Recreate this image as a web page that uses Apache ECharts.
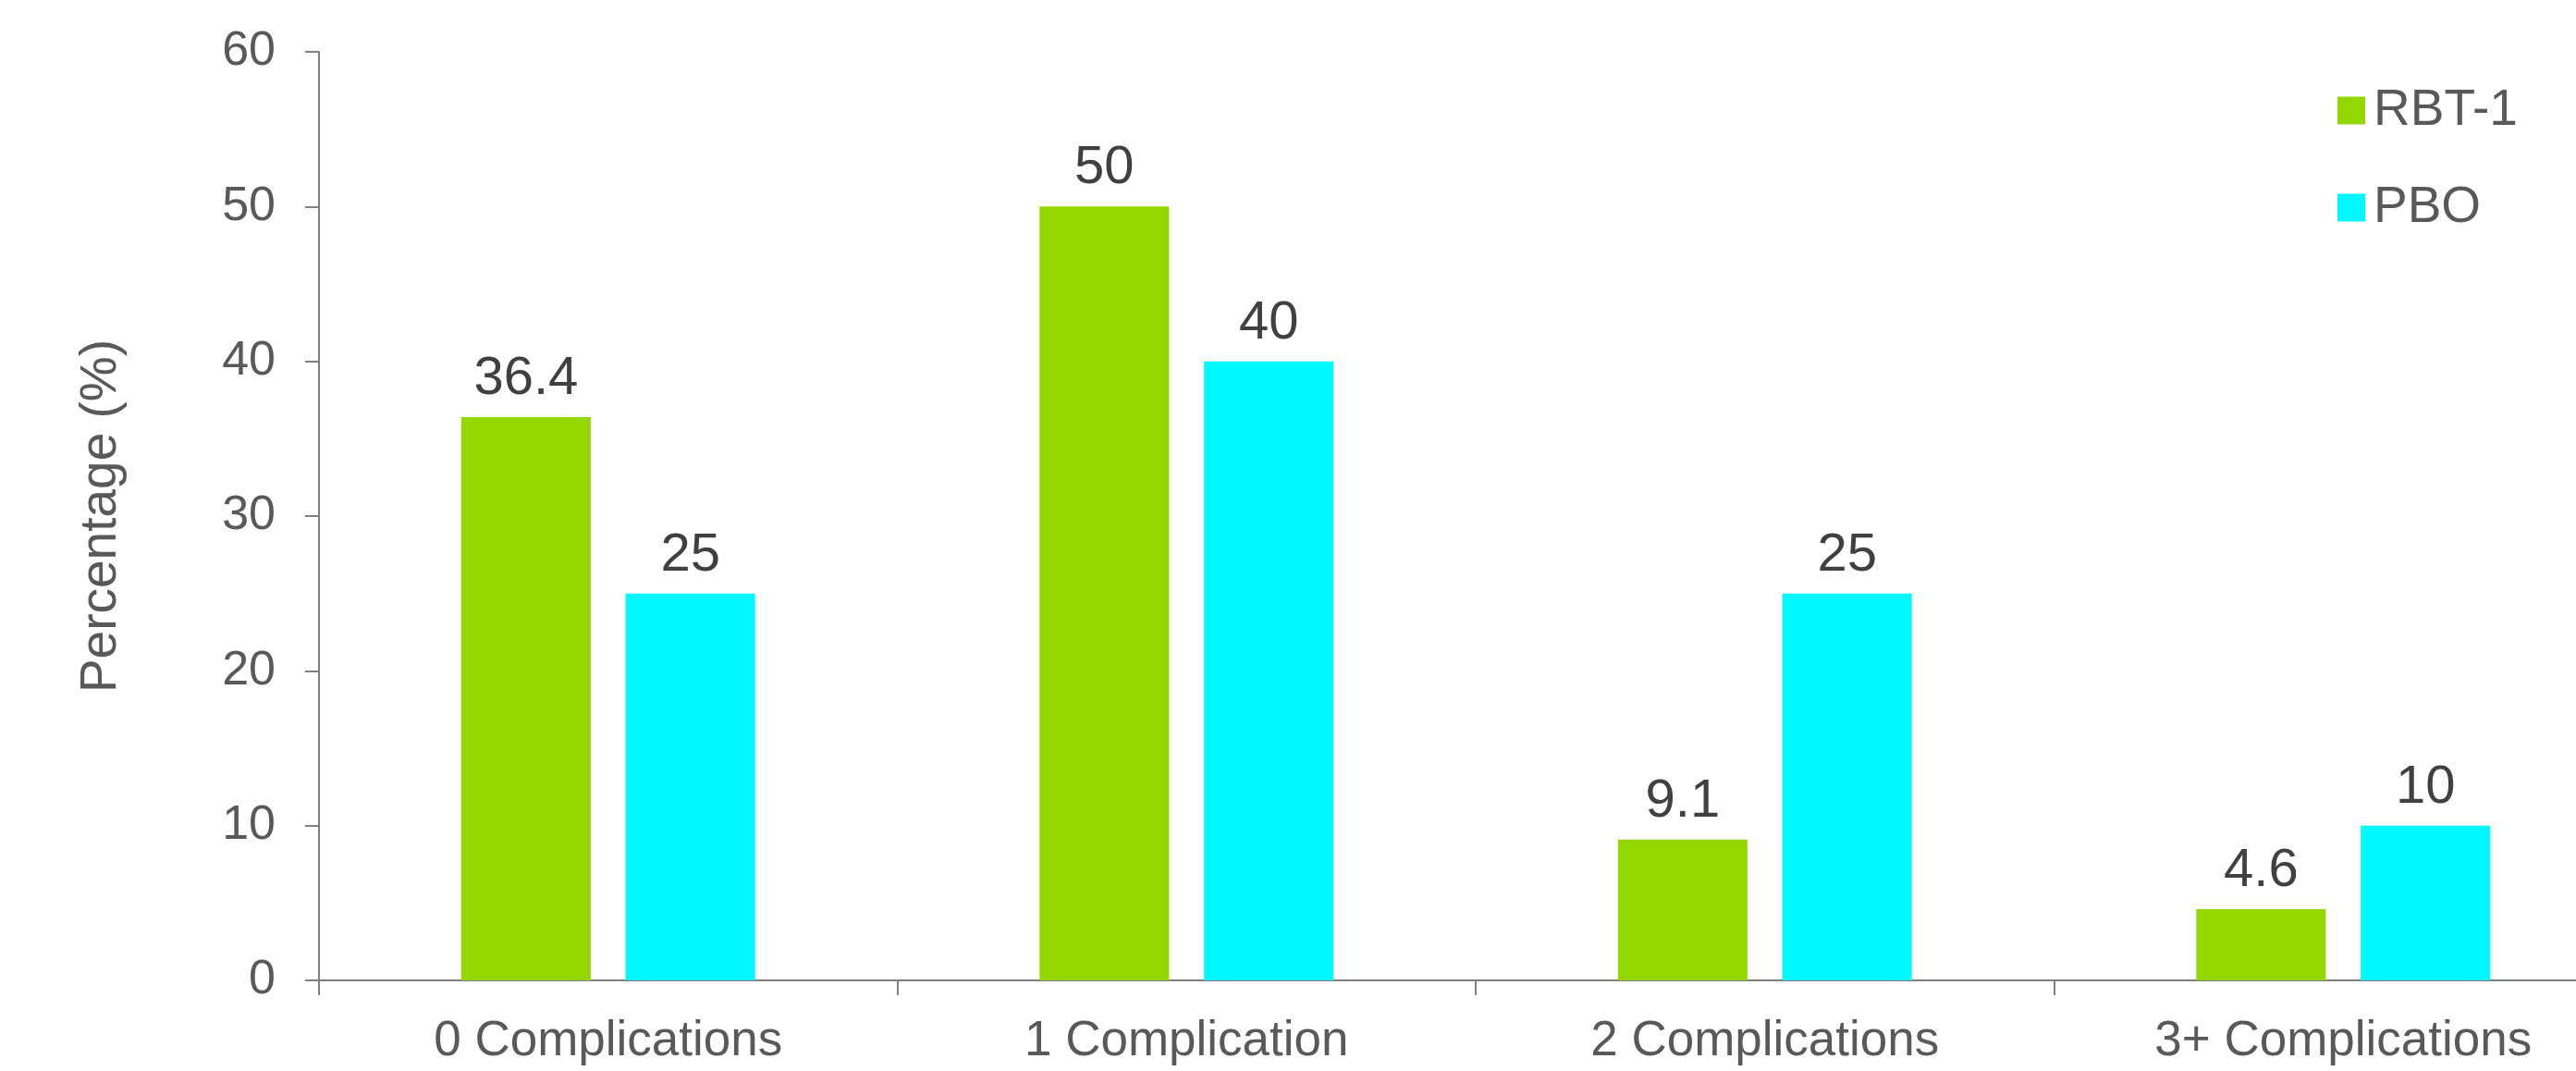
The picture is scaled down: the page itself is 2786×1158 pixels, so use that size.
<!DOCTYPE html>
<html>
<head>
<meta charset="utf-8">
<script src="https://cdn.jsdelivr.net/npm/echarts@6/dist/echarts.min.js"></script>
<style>
  html, body { margin: 0; padding: 0; background: #fff; }
  #chart { width: 2786px; height: 1158px; }
</style>
</head>
<body>
<div id="chart"></div>
<script>
// 数据
const categories = ['0 Complications', '1 Complication', '2 Complications', '3+ Complications'];
const rbtValues = [36.4, 50, 9.1, 4.6];
const pboValues = [25, 40, 25, 10];
const yTicks = [0, 10, 20, 30, 40, 50, 60];

const font = 'Liberation Sans, Arial, sans-serif';
const axisGray = '#7f7f7f';

let chart = echarts.init(document.getElementById('chart'));

// 柱顶数值
let valueLabel = {
  show: true,
  position: 'top',
  distance: 12,
  fontSize: 58,
  color: '#404040',
  fontFamily: font
};

let option = {
  animation: false,
  backgroundColor: '#ffffff',
  grid: {
    left: 345,
    top: 56,
    bottom: 98,
    width: 2502, // 最后一类超出画布右边
    outerBoundsMode: 'none'
  },
  legend: {
    orient: 'vertical',
    left: 2523,
    top: 87,
    icon: 'rect',
    itemWidth: 30,
    itemHeight: 30,
    itemGap: 50,
    textStyle: {
      fontSize: 55,
      color: '#595959',
      fontFamily: font,
      padding: [0, 0, 0, 4]
    },
    data: ['RBT-1', 'PBO']
  },
  xAxis: {
    type: 'category',
    data: categories,
    axisLine: { lineStyle: { color: axisGray, width: 2 } },
    axisTick: { show: true, length: 16, lineStyle: { color: axisGray, width: 2 } },
    axisLabel: {
      fontSize: 53,
      color: '#595959',
      fontFamily: font,
      margin: 40
    }
  },
  yAxis: {
    type: 'value',
    min: yTicks[0],
    max: yTicks[yTicks.length - 1],
    interval: 10,
    name: 'Percentage (%)',
    nameLocation: 'middle',
    nameGap: 208,
    nameTextStyle: { fontSize: 55, color: '#595959', fontFamily: font },
    splitLine: { show: false },
    axisLine: { show: true, lineStyle: { color: axisGray, width: 2 } },
    axisTick: { show: true, length: 15, lineStyle: { color: axisGray, width: 2 } },
    axisLabel: {
      fontSize: 52,
      color: '#595959',
      fontFamily: font,
      margin: 47
    }
  },
  series: [
    {
      name: 'RBT-1',
      type: 'bar',
      data: rbtValues,
      barWidth: 140,
      barGap: '27%',
      itemStyle: { color: '#94D600' },
      label: valueLabel
    },
    {
      name: 'PBO',
      type: 'bar',
      data: pboValues,
      barWidth: 140,
      barGap: '27%',
      itemStyle: { color: '#00F8FF' },
      label: valueLabel
    }
  ]
};

chart.setOption(option);

window.onresize = () => {
  chart.resize();
};
</script>
</body>
</html>
